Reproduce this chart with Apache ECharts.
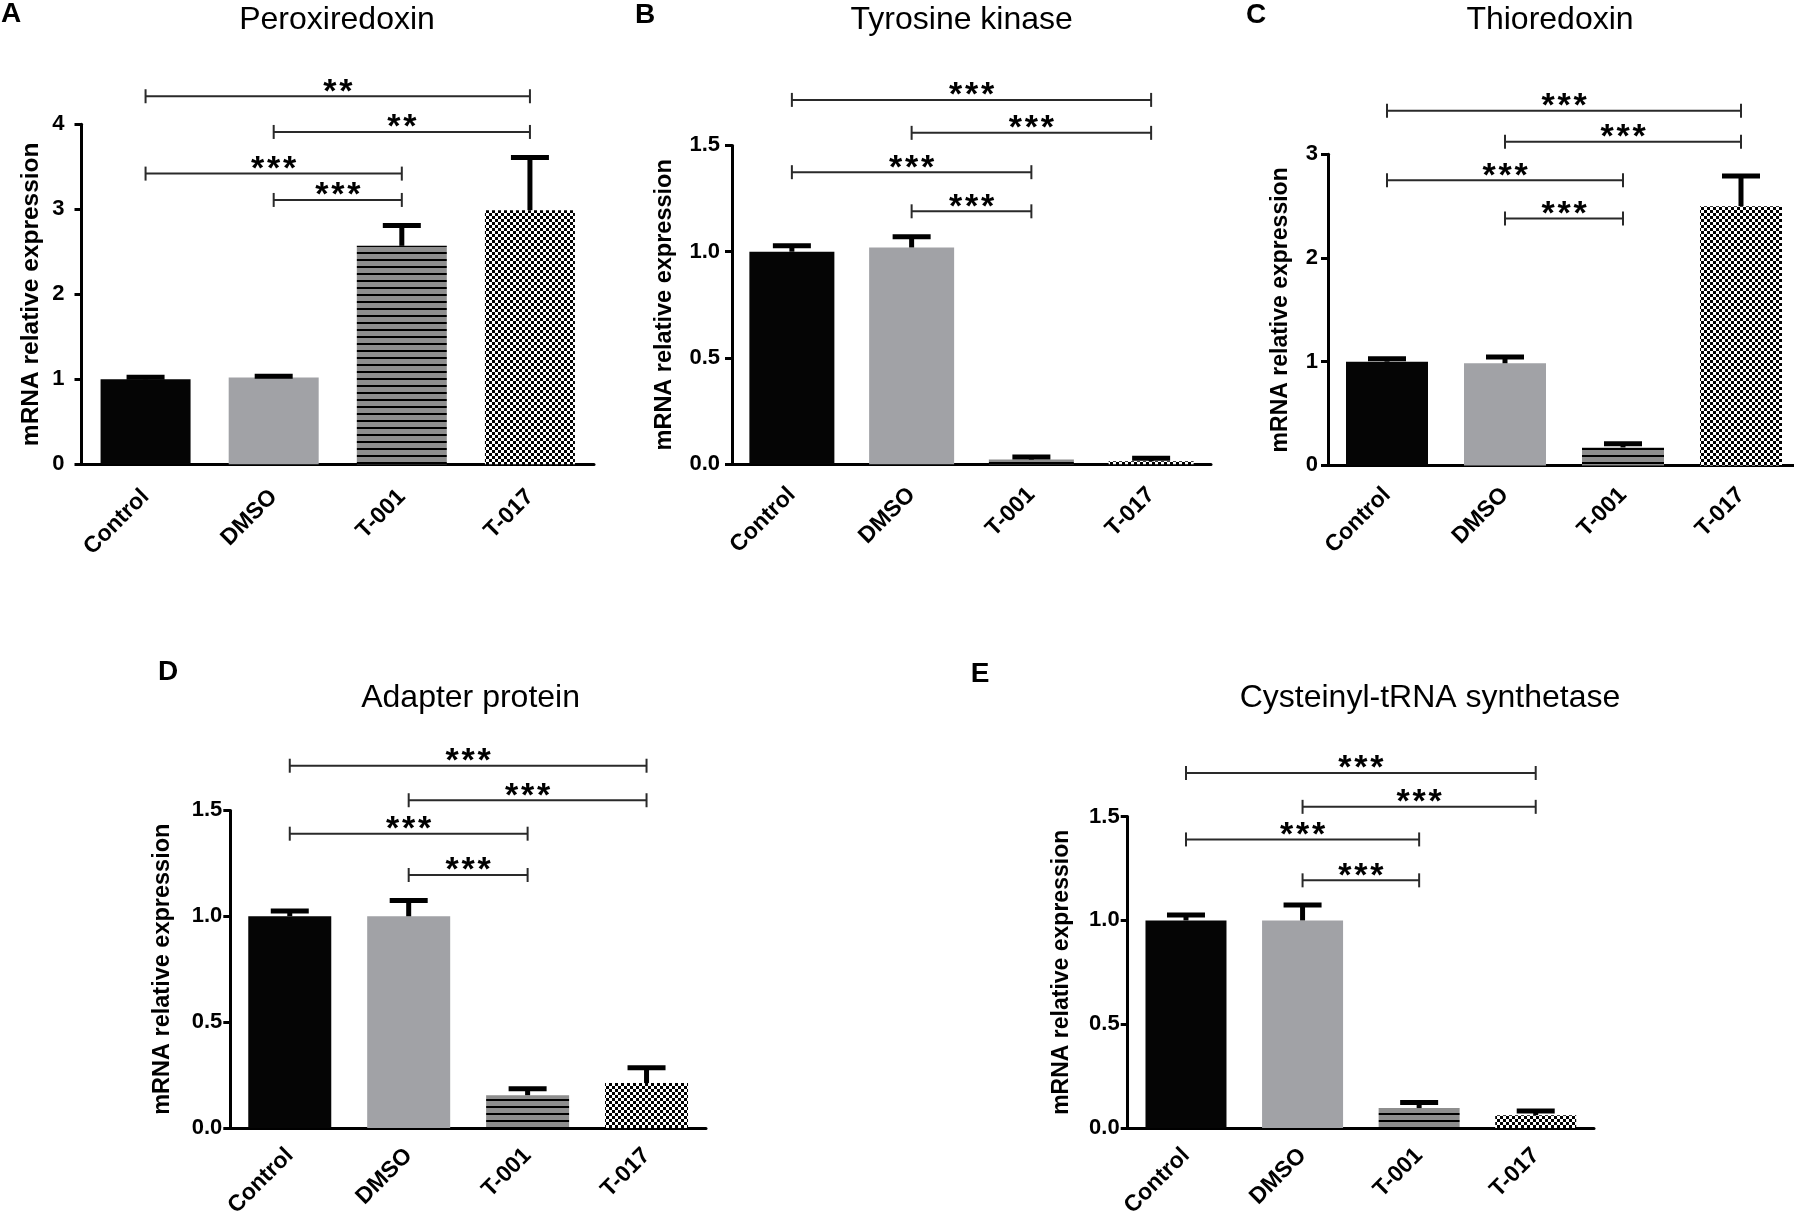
<!DOCTYPE html>
<html>
<head>
<meta charset="utf-8">
<script src="https://cdn.jsdelivr.net/npm/echarts@6/dist/echarts.min.js"></script>
<style>
html, body { margin: 0; padding: 0; background: #fff; }
#chart { width: 1794px; height: 1211px; }
</style>
</head>
<body>
<div id="chart"></div>
<script>
// ---- data ----
var categories = ['Control', 'DMSO', 'T-001', 'T-017'];
var panelTitles = ['Peroxiredoxin', 'Tyrosine kinase', 'Thioredoxin', 'Adapter protein', 'Cysteinyl-tRNA synthetase'];
var panelLetters = ['A', 'B', 'C', 'D', 'E'];
var yAxisName = 'mRNA relative expression';
var yMax = [4, 1.5, 3, 1.5, 1.5];
var yStep = [1, 0.5, 1, 0.5, 0.5];
var yDecimals = [0, 1, 0, 1, 1];

var meanA = [1.0, 1.02, 2.57, 2.99];
var errA = [0.025, 0.015, 0.24, 0.62];
var meanB = [1.0, 1.02, 0.022, 0.014];
var errB = [0.028, 0.05, 0.012, 0.015];
var meanC = [1.0, 0.985, 0.173, 2.5];
var errC = [0.028, 0.06, 0.035, 0.29];
var meanD = [1.0, 1.0, 0.155, 0.212];
var errD = [0.025, 0.075, 0.03, 0.072];
var meanE = [1.0, 1.0, 0.096, 0.062];
var errE = [0.026, 0.074, 0.027, 0.02];

// [from category, to category, height, stars]
var bracketsA = [[0, 3, 4.33, '**'], [1, 3, 3.91, '**'], [0, 2, 3.42, '***'], [1, 2, 3.11, '***']];
var bracketsB = [[0, 3, 1.714, '***'], [1, 3, 1.559, '***'], [0, 2, 1.374, '***'], [1, 2, 1.19, '***']];
var bracketsC = [[0, 3, 3.42, '***'], [1, 3, 3.12, '***'], [0, 2, 2.75, '***'], [1, 2, 2.38, '***']];
var bracketsD = [[0, 3, 1.711, '***'], [1, 3, 1.548, '***'], [0, 2, 1.39, '***'], [1, 2, 1.195, '***']];
var bracketsE = [[0, 3, 1.71, '***'], [1, 3, 1.547, '***'], [0, 2, 1.39, '***'], [1, 2, 1.193, '***']];

var means = [meanA, meanB, meanC, meanD, meanE];
var errs = [errA, errB, errC, errD, errE];
var brackets = [bracketsA, bracketsB, bracketsC, bracketsD, bracketsE];

// ---- layout ----
var grids = [
    {left: 81.5, top: 124.3, width: 512.5, height: 340},
    {left: 732, top: 145.4, width: 479, height: 318.9},
    {left: 1328, top: 154.3, width: 472, height: 311.1},
    {left: 230.3, top: 810.4, width: 475.7, height: 317.6},
    {left: 1127.7, top: 816.6, width: 466.3, height: 311.4}
];
var barWidths = [90, 85, 82, 83, 81];
var nameGaps = [38, 55, 36, 56, 55];
var nameSizes = [24.5, 23.5, 23, 23.5, 23];
var yLabelMargins = [17, 12, 10, 8, 8];
var xLabelMargins = [29, 27, 26, 24, 24];
var titlePos = [[337, 20], [961.7, 20], [1550, 20], [470.6, 698], [1430, 698]];
var letterPos = [[11, 14], [645, 15], [1256, 15], [168, 672.5], [980, 674]];

var FONT = '"Liberation Sans", Arial, sans-serif';

// fill patterns
function makeStripes() {
    var c = document.createElement('canvas');
    c.width = 4; c.height = 7;
    var ctx = c.getContext('2d');
    ctx.fillStyle = '#8e8e8e';
    ctx.fillRect(0, 0, 4, 7);
    ctx.fillStyle = '#000';
    ctx.fillRect(0, 0, 4, 2);
    return {image: c, repeat: 'repeat'};
}
function makeChecker() {
    var c = document.createElement('canvas');
    c.width = 6; c.height = 6;
    var ctx = c.getContext('2d');
    ctx.fillStyle = '#fff';
    ctx.fillRect(0, 0, 6, 6);
    ctx.fillStyle = '#000';
    ctx.fillRect(0, 0, 3, 3);
    ctx.fillRect(3, 3, 3, 3);
    return {image: c, repeat: 'repeat'};
}
var fills = ['#050505', '#a1a2a6', makeStripes(), makeChecker()];

var chart = echarts.init(document.getElementById('chart'), null, {renderer: 'canvas'});

var option = {
    backgroundColor: '#fff',
    animation: false,
    grid: [],
    xAxis: [],
    yAxis: [],
    series: [],
    graphic: []
};

function renderErrorBar(params, api) {
    var base = api.coord([api.value(0), api.value(1)]);
    var top = api.coord([api.value(0), api.value(1) + api.value(2)]);
    var half = 19;
    var st = {stroke: '#000', lineWidth: 5};
    return {
        type: 'group',
        children: [
            {type: 'line', shape: {x1: base[0], y1: base[1], x2: top[0], y2: top[1]}, style: st},
            {type: 'line', shape: {x1: top[0] - half, y1: top[1], x2: top[0] + half, y2: top[1]}, style: st}
        ]
    };
}

function renderBracket(params, api) {
    var a = api.coord([api.value(0), api.value(2)]);
    var c = api.coord([api.value(1), api.value(2)]);
    var n = api.value(3);
    var mid = (a[0] + c[0]) / 2;
    var st = {stroke: '#2a2a2a', lineWidth: 2};
    var kids = [
        {type: 'line', shape: {x1: a[0], y1: a[1], x2: c[0], y2: c[1]}, style: st},
        {type: 'line', shape: {x1: a[0], y1: a[1] - 7, x2: a[0], y2: a[1] + 7}, style: st},
        {type: 'line', shape: {x1: c[0], y1: c[1] - 7, x2: c[0], y2: c[1] + 7}, style: st}
    ];
    for (var k = 0; k < n; k++) {
        kids.push({
            type: 'text',
            x: mid + (k - (n - 1) / 2) * 16,
            y: a[1] - 4,
            style: {
                text: '*', fill: '#000',
                font: 'bold 34px "Liberation Sans", Arial, sans-serif',
                align: 'center', verticalAlign: 'middle',
                textAlign: 'center', textVerticalAlign: 'middle'
            }
        });
    }
    return {type: 'group', children: kids};
}

for (let p = 0; p < 5; p++) {
    var g = grids[p];
    option.grid.push({
        left: g.left, top: g.top, width: g.width, height: g.height,
        containLabel: false, outerBoundsMode: 'none'
    });
    option.xAxis.push({
        type: 'category',
        gridIndex: p,
        data: categories,
        axisLine: {lineStyle: {color: '#000', width: 3}},
        axisTick: {alignWithLabel: true, length: 9, lineStyle: {color: '#000', width: 3}},
        axisLabel: {
            interval: 0, rotate: 45, margin: xLabelMargins[p],
            color: '#000', fontWeight: 'bold', fontSize: 23, fontFamily: FONT
        },
        splitLine: {show: false}
    });
    let dec = yDecimals[p];
    option.yAxis.push({
        type: 'value',
        gridIndex: p,
        min: 0,
        max: yMax[p],
        interval: yStep[p],
        name: yAxisName,
        nameLocation: 'middle',
        nameGap: nameGaps[p],
        nameTextStyle: {color: '#000', fontWeight: 'bold', fontSize: nameSizes[p], fontFamily: FONT},
        axisLine: {show: true, lineStyle: {color: '#000', width: 3}},
        axisTick: {show: true, length: 7, lineStyle: {color: '#000', width: 3}},
        axisLabel: {
            margin: yLabelMargins[p], color: '#000', fontWeight: 'bold', fontSize: 22, fontFamily: FONT,
            formatter: function(v) { return v.toFixed(dec); }
        },
        splitLine: {show: false}
    });

    option.series.push({
        type: 'bar',
        xAxisIndex: p,
        yAxisIndex: p,
        barWidth: barWidths[p],
        data: means[p].map(function(v, i) {
            return {value: v, itemStyle: {color: fills[i]}};
        }),
        z: 2
    });

    // error bars (upper only)
    option.series.push({
        type: 'custom',
        xAxisIndex: p,
        yAxisIndex: p,
        z: 3,
        encode: {x: 0, y: 1},
        data: means[p].map(function(v, i) { return [i, v, errs[p][i]]; }),
        renderItem: renderErrorBar
    });

    // significance brackets with stars
    option.series.push({
        type: 'custom',
        xAxisIndex: p,
        yAxisIndex: p,
        z: 4,
        clip: false,
        encode: {x: 0, y: 2},
        data: brackets[p].map(function(b) { return [b[0], b[1], b[2], b[3].length]; }),
        renderItem: renderBracket
    });

    option.graphic.push({
        type: 'text',
        x: titlePos[p][0], y: titlePos[p][1],
        style: {
            text: panelTitles[p], fill: '#000',
            font: '32px "Liberation Sans", Arial, sans-serif',
            align: 'center', verticalAlign: 'middle',
            textAlign: 'center', textVerticalAlign: 'middle'
        }
    });
    option.graphic.push({
        type: 'text',
        x: letterPos[p][0], y: letterPos[p][1],
        style: {
            text: panelLetters[p], fill: '#000',
            font: 'bold 28px "Liberation Sans", Arial, sans-serif',
            align: 'center', verticalAlign: 'middle',
            textAlign: 'center', textVerticalAlign: 'middle'
        }
    });
}

chart.setOption(option);
</script>
</body>
</html>
